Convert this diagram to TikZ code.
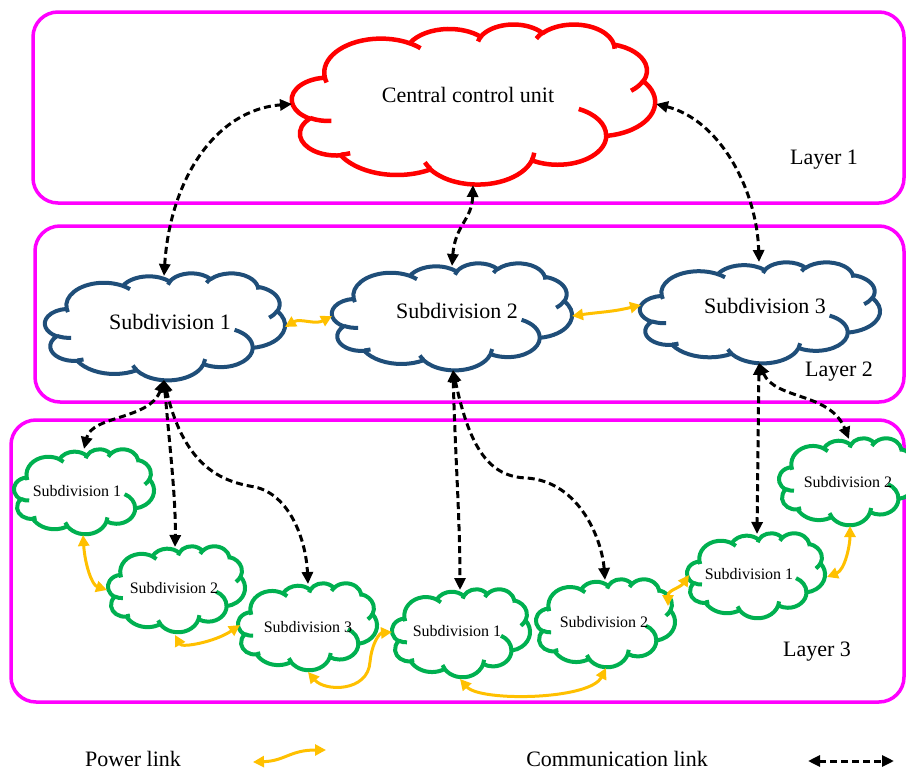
\documentclass[tikz,border=0pt]{standalone}
\usepackage{fontspec}
\setmainfont{Liberation Serif}
\usetikzlibrary{arrows.meta}
\definecolor{ccured}{HTML}{FF0000}
\definecolor{subblue}{HTML}{1F4E79}
\definecolor{subgreen}{HTML}{00B050}
\definecolor{laymag}{HTML}{FF00FF}
\definecolor{pwr}{HTML}{FFC000}
\tikzset{
 declare function={vp(\a,\w,\h)=\a+Mod(atan2(\w*sin(\a),\h*cos(\a))-\a+540,360)-180;},
 layerbox/.style={draw=laymag, line width=3.5pt, rounded corners=25pt},
 commlink/.style={draw=black, line width=3pt, dash pattern=on 7pt off 4pt, {Triangle[length=12pt,width=11pt]}-{Triangle[length=12pt,width=11pt]}},
 powerlink/.style={draw=pwr, line width=3pt, {Triangle[length=11pt,width=11pt]}-{Triangle[length=11pt,width=11pt]}},
 bigtxt/.style={font=\fontsize{22}{26}\selectfont, inner sep=0},
 smalltxt/.style={font=\fontsize{16}{19}\selectfont, inner sep=0},
}
\newcommand\parc[4]{arc[start angle={vp(#3,#1,#2)}, delta angle={vp(#3+#4,#1,#2)-vp(#3,#1,#2)}, x radius=#1, y radius=#2]}
\newcommand\cloudouter{(39.00,143.70) \parc{67.53}{91.90}{-190.4875}{123.7805} \parc{53.33}{72.67}{-144.1024}{89.9452} \parc{43.65}{59.45}{-145.8079}{99.7230} \parc{48.57}{65.95}{-130.9861}{117.2417} \parc{53.33}{72.73}{-78.7089}{109.0269} \parc{67.75}{92.20}{-46.2673}{130.2690} \parc{57.85}{78.67}{0.6250}{114.0333} \parc{67.52}{92.15}{22.4516}{115.1726} \parc{77.20}{105.43}{66.2426}{75.7110} \parc{43.60}{59.18}{-274.9421}{146.7356} \parc{43.45}{59.45}{-246.8285}{152.5189} -- cycle}
\newcommand\cloudinner{(46.93,261.77) \parc{43.45}{59.45}{86.7420}{26.4295}
 (69.28,348.99) \parc{43.60}{59.18}{73.6105}{11.4475}
 (164.78,390.90) \parc{67.52}{92.15}{137.6242}{14.0811}
 (288.27,347.51) \parc{67.52}{92.15}{6.4533}{15.9984}
 (341.29,229.54) \parc{57.85}{78.67}{-70.2924}{70.9174}
 (417.98,153.54) \parc{53.33}{72.73}{30.3180}{27.7515}
 (383.24,54.26) \parc{48.57}{65.95}{-13.7443}{14.8589}
 (290.78,39.52) \parc{48.57}{65.95}{-149.1815}{18.1954}
 (221.41,47.20) \parc{43.65}{59.45}{-163.4943}{17.6864}
 (140.00,51.92) \parc{67.53}{91.90}{-66.7070}{12.3194}
 (41.27,157.89) \parc{67.53}{91.90}{157.6544}{11.8582}}
\newcommand\pptcloud[6]{%
 \pgfmathsetmacro\cldx{#3/432}\pgfmathsetmacro\cldy{-#4/432}%
 \begin{scope}[shift={(#1,#2)}, x=\cldx pt, y=\cldy pt, line width=#6, line join=round]
  \path[draw=#5, fill=white] \cloudouter;
  \path[draw=#5] \cloudinner;
 \end{scope}}
\begin{document}
\begin{tikzpicture}[x=1pt,y=-1pt]
\useasboundingbox (0,0) rectangle (906,771);
% layers
\draw[layerbox] (33,12) rectangle (904,203);
\draw[layerbox] (35,226) rectangle (904,402);
\draw[layerbox] (11,420) rectangle (904,702);
\node[bigtxt] (l1) at (824,160) {Layer 1};
\node[bigtxt] (l2) at (839,372) {Layer 2};
\node[bigtxt] (l3) at (817,652) {Layer 3};
% clouds
\pptcloud{292}{24}{363}{160}{ccured}{4.5pt}
\pptcloud{45}{273}{240}{107}{subblue}{4pt}
\pptcloud{332}{263}{240}{107}{subblue}{4pt}
\pptcloud{640}{262}{240}{101}{subblue}{4pt}
\pptcloud{14}{449}{140}{85}{subgreen}{4pt}
\pptcloud{108}{546}{137}{86}{subgreen}{4pt}
\pptcloud{238}{583}{139}{87}{subgreen}{4pt}
\pptcloud{392}{589}{138}{88}{subgreen}{4pt}
\pptcloud{536}{579}{139}{88}{subgreen}{4pt}
\pptcloud{687}{533}{138}{85}{subgreen}{4pt}
\pptcloud{779}{438}{138}{87}{subgreen}{4pt}
% texts
\node[bigtxt] (ccu) at (468,95) {Central control unit};
\node[bigtxt] (s1) at (170,322) {Subdivision 1};
\node[bigtxt] (s2) at (457,311) {Subdivision 2};
\node[bigtxt] (s3) at (765,306) {Subdivision 3};
\node[smalltxt] (g1) at (77,491) {Subdivision 1};
\node[smalltxt] (g2) at (174,588) {Subdivision 2};
\node[smalltxt] (g3) at (308,627) {Subdivision 3};
\node[smalltxt] (g4) at (457,631) {Subdivision 1};
\node[smalltxt] (g5) at (604,622) {Subdivision 2};
\node[smalltxt] (g6) at (749,574) {Subdivision 1};
\node[smalltxt] (g7) at (848,482) {Subdivision 2};
% anchor points
\coordinate (ccuL) at (292,104); \coordinate (ccuB) at (473,185); \coordinate (ccuR) at (656,104);
\coordinate (s1T) at (164,276); \coordinate (s1B) at (164,380); \coordinate (s1R) at (285,327);
\coordinate (s2T) at (452,266); \coordinate (s2B) at (453,370); \coordinate (s2L) at (332,316); \coordinate (s2R) at (572,316);
\coordinate (s3T) at (759,262); \coordinate (s3B) at (759,363); \coordinate (s3L) at (641,305);
\coordinate (g1T) at (84,449); \coordinate (g1B) at (83,535);
\coordinate (g2T) at (175,547); \coordinate (g2L) at (107,590); \coordinate (g2B) at (175,635);
\coordinate (g3T) at (308,584); \coordinate (g3L) at (240,625); \coordinate (g3B) at (308,672);
\coordinate (g4T) at (460,590); \coordinate (g4L) at (392,632); \coordinate (g4B) at (460,679);
\coordinate (g5T) at (605,580); \coordinate (g5B) at (606,668); \coordinate (g5R) at (668,606);
\coordinate (g6T) at (757,534); \coordinate (g6L) at (689,575); \coordinate (g6R) at (827,577);
\coordinate (g7T) at (849,439); \coordinate (g7B) at (850,526);
% communication links
\draw[commlink] (s1T) .. controls (170,180) and (215,110) .. (ccuL);
\draw[commlink] (s2T) .. controls (455,225) and (472,220) .. (ccuB);
\draw[commlink] (ccuR) .. controls (720,120) and (757,190) .. (s3T);
\draw[commlink] (s1B) .. controls (150,420) and (92,415) .. (g1T);
\draw[commlink] (s1B) .. controls (170,450) and (176,500) .. (g2T);
\draw[commlink] (s1B) .. controls (185,470) and (225,482) .. (255,487) .. controls (290,495) and (306,540) .. (g3T);
\draw[commlink] (s2B) .. controls (455,450) and (460,520) .. (g4T);
\draw[commlink] (s2B) .. controls (470,450) and (490,477) .. (527,478) .. controls (580,482) and (602,540) .. (g5T);
\draw[commlink] (s3B) -- (g6T);
\draw[commlink] (s3B) .. controls (775,400) and (830,392) .. (g7T);
% power links
\draw[powerlink] (s1R) .. controls (300,318) and (315,325) .. (s2L);
\draw[powerlink] (s2R) .. controls (600,312) and (612,312) .. (s3L);
\draw[powerlink] (g1B) .. controls (85,565) and (92,585) .. (g2L);
\draw[powerlink] (g2B) .. controls (182,648) and (215,642) .. (g3L);
\draw[powerlink] (g3B) .. controls (325,692) and (368,692) .. (370,662) .. controls (372,642) and (380,633) .. (g4L);
\draw[powerlink] (g4B) .. controls (480,702) and (590,700) .. (g5B);
\draw[powerlink] (g5R) .. controls (668,590) and (680,588) .. (g6L);
\draw[powerlink] (g6R) .. controls (845,570) and (850,545) .. (g7B);
% legend
\node[bigtxt] (lgp) at (133,759) {Power link};
\coordinate (lp1) at (253,762); \coordinate (lp2) at (326,750);
\draw[powerlink] (lp1) .. controls (285,761) and (290,750) .. (lp2);
\node[bigtxt] (lgc) at (617,759) {Communication link};
\coordinate (lc1) at (808,761); \coordinate (lc2) at (894,761);
\draw[commlink] (lc1) -- (lc2);
\end{tikzpicture}
\end{document}
